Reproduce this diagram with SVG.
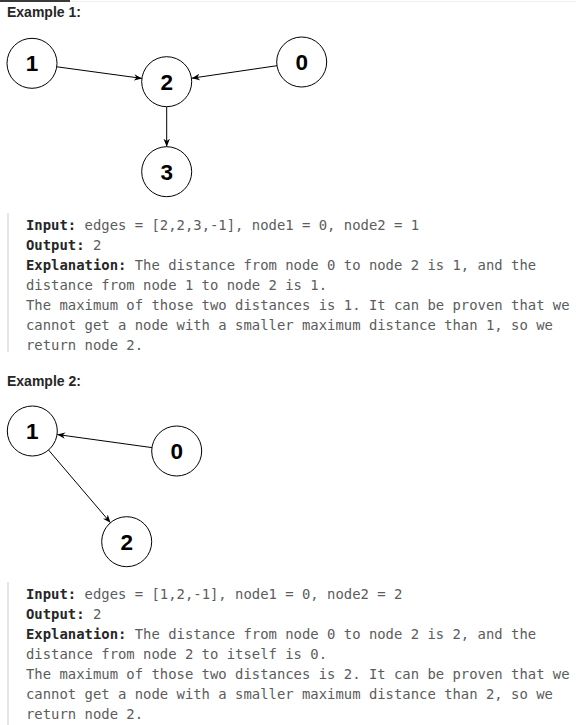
<svg xmlns="http://www.w3.org/2000/svg" width="576" height="725" viewBox="0 0 576 725">
  <style>
    .node circle { fill: #ffffff; stroke: #000000; stroke-width: 1; }
    .node text { font-family: "Liberation Sans", Arial, sans-serif; font-weight: bold; font-size: 22.5px; fill: #000000; text-anchor: middle; }
    .edge { stroke: #000000; stroke-width: 1; fill: none; marker-end: url(#arrow); }
    .heading { font-family: "Liberation Sans", Arial, sans-serif; font-weight: bold; font-size: 14px; fill: #262626; }
    .code { font-family: "DejaVu Sans Mono", "Liberation Mono", monospace; font-size: 13.9px; fill: #5c5c5c; white-space: pre; }
    .code .lbl { font-weight: bold; fill: #262626; }
    .bar { fill: #e6e6e6; }
  </style>
  <defs>
    <marker id="arrow" viewBox="0 0 10 10" refX="10" refY="5" markerWidth="8" markerHeight="8" markerUnits="userSpaceOnUse" orient="auto">
      <path d="M0,1 L10,5 L0,9 L3,5 Z" fill="#000000"/>
    </marker>
  </defs>
  <rect width="576" height="725" fill="#ffffff"/>
  <rect x="0" y="1" width="576" height="1" fill="#eeeeee"/>
  <rect x="0" y="0" width="70" height="2" fill="#3a3a3a"/>

  <text class="heading" x="7" y="16.5">Example 1:</text>

  <g id="connectors1">
    <line class="edge" x1="56.8" y1="66.8" x2="142" y2="78.4"/>
    <line class="edge" x1="277" y1="65.7" x2="191.8" y2="78.2"/>
    <line class="edge" x1="166.7" y1="106.7" x2="166.7" y2="146.7"/>
  </g>
  <g id="ex1-node1" class="node"><circle cx="32" cy="63.3" r="25"/><text x="32" y="71.3">1</text></g>
  <g id="ex1-node2" class="node"><circle cx="166.7" cy="81.7" r="25"/><text x="166.7" y="89.7">2</text></g>
  <g id="ex1-node0" class="node"><circle cx="301.7" cy="62" r="25"/><text x="301.7" y="70">0</text></g>
  <g id="ex1-node3" class="node"><circle cx="166.7" cy="171.7" r="25"/><text x="166.7" y="179.7">3</text></g>

  <rect class="bar" x="7" y="213" width="2" height="139"/>
  <text class="code" x="26" y="229.5"><tspan class="lbl">Input:</tspan> edges = [2,2,3,-1], node1 = 0, node2 = 1</text>
  <text class="code" x="26" y="249.5"><tspan class="lbl">Output:</tspan> 2</text>
  <text class="code" x="26" y="269.5"><tspan class="lbl">Explanation:</tspan> The distance from node 0 to node 2 is 1, and the</text>
  <text class="code" x="26" y="289.5">distance from node 1 to node 2 is 1.</text>
  <text class="code" x="26" y="309.5">The maximum of those two distances is 1. It can be proven that we</text>
  <text class="code" x="26" y="329.5">cannot get a node with a smaller maximum distance than 1, so we</text>
  <text class="code" x="26" y="349.5">return node 2.</text>

  <text class="heading" x="7" y="385.5">Example 2:</text>

  <g id="connectors2">
    <line class="edge" x1="151.9" y1="447.6" x2="57.2" y2="434.5"/>
    <line class="edge" x1="48.5" y1="450" x2="110.5" y2="522.7"/>
  </g>
  <g id="ex2-node1" class="node"><circle cx="32.3" cy="431" r="25"/><text x="32.3" y="439">1</text></g>
  <g id="ex2-node0" class="node"><circle cx="176.7" cy="451" r="25"/><text x="176.7" y="459">0</text></g>
  <g id="ex2-node2" class="node"><circle cx="126.7" cy="541.7" r="25"/><text x="126.7" y="549.7">2</text></g>

  <rect class="bar" x="7" y="582" width="2" height="143"/>
  <text class="code" x="26" y="598.5"><tspan class="lbl">Input:</tspan> edges = [1,2,-1], node1 = 0, node2 = 2</text>
  <text class="code" x="26" y="618.5"><tspan class="lbl">Output:</tspan> 2</text>
  <text class="code" x="26" y="638.5"><tspan class="lbl">Explanation:</tspan> The distance from node 0 to node 2 is 2, and the</text>
  <text class="code" x="26" y="658.5">distance from node 2 to itself is 0.</text>
  <text class="code" x="26" y="678.5">The maximum of those two distances is 2. It can be proven that we</text>
  <text class="code" x="26" y="698.5">cannot get a node with a smaller maximum distance than 2, so we</text>
  <text class="code" x="26" y="718.5">return node 2.</text>
</svg>
